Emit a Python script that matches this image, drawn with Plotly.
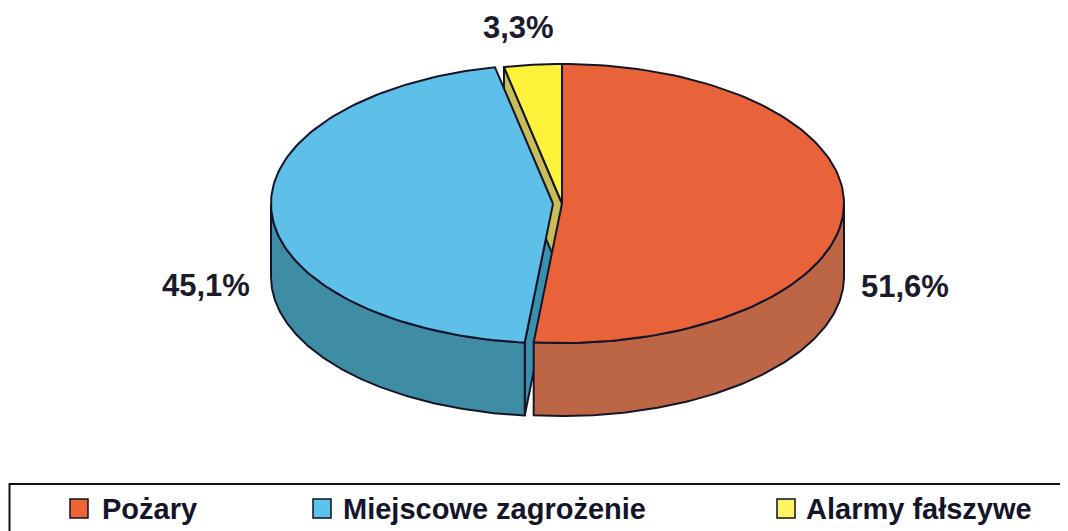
import math
import plotly.graph_objects as go

# ---------------- data ----------------
categories = ["Pożary", "Miejscowe zagrożenie", "Alarmy fałszywe"]
values = [51.6, 45.1, 3.3]
value_labels = ["51,6%", "45,1%", "3,3%"]

# ---------------- style ----------------
top_colors = ["#E8623A", "#5EBFE8", "#FFF23A"]
wall_colors = ["#BC6645", "#3F8DA5", "#C9BC55"]
face_colors = ["#B85E3E", "#3A91AE", "#C8BD57"]
legend_colors = ["#EE6437", "#5CC3EA", "#FFF466"]
explode = [0, 9, 0]
outline = "#15152A"

W, H = 1068, 531
PAD = 8                  # page body margin of the html page
cx, cy = 562, 203.5      # centre of the top face (page pixels)
rx, ry = 282, 139.5      # ellipse radii
depth = 73               # pie thickness
label_pos = [(905, 286), (206, 285), (518, 27)]
legend_marker_x = [70, 313, 777]
legend_text_x = [100, 341, 804]
legend_y = 509

font_family = "Liberation Sans, Arial, sans-serif"

fig = go.Figure()

total = sum(values)
starts, ends = [], []
acc = 0.0
for v in values:
    starts.append(acc / total * 360.0)
    acc += v
    ends.append(acc / total * 360.0)


def pt(theta_deg, r, off, dz=0.0):
    t = math.radians(theta_deg)
    return (cx + off[0] + rx * r * math.sin(t),
            cy + off[1] - ry * r * math.cos(t) + dz)


def arc(a, b, off, dz=0.0, n=120):
    pts = []
    for i in range(n + 1):
        th = a + (b - a) * i / n
        pts.append(pt(th, 1.0, off, dz))
    return pts


def poly(points, fill):
    xs = [p[0] for p in points] + [points[0][0]]
    ys = [p[1] for p in points] + [points[0][1]]
    fig.add_trace(go.Scatter(
        x=xs, y=ys, mode="lines", fill="toself", fillcolor=fill,
        line=dict(color=outline, width=2), hoverinfo="skip",
        showlegend=False))


offsets = []
for i in range(len(values)):
    mid = math.radians((starts[i] + ends[i]) / 2)
    d = explode[i]
    offsets.append((d * math.sin(mid), -d * (ry / rx) * math.cos(mid)))

# radial (cut) faces that face the viewer
for i in range(len(values)):
    s = starts[i]
    if math.sin(math.radians(s)) < -1e-6:
        off = offsets[i]
        c_top = (cx + off[0], cy + off[1])
        e_top = pt(s, 1.0, off)
        poly([c_top, e_top, (e_top[0], e_top[1] + depth),
              (c_top[0], c_top[1] + depth)], face_colors[i])

# outer walls (front half only)
for i in range(len(values)):
    a = max(starts[i], 90.0)
    b = min(ends[i], 270.0)
    if b > a:
        off = offsets[i]
        top = arc(a, b, off)
        bot = arc(a, b, off, depth)[::-1]
        poly(top + bot, wall_colors[i])

# top faces
for i in range(len(values)):
    off = offsets[i]
    c_top = (cx + off[0], cy + off[1])
    poly([c_top] + arc(starts[i], ends[i], off), top_colors[i])

annotations = []
for i, t in enumerate(value_labels):
    annotations.append(dict(
        x=label_pos[i][0], y=label_pos[i][1], text=t, showarrow=False,
        xanchor="center", yanchor="middle",
        font=dict(family=font_family, size=31, color="#1B1B2B",
                  weight="bold")))

shapes = [dict(type="rect", x0=9.5, x1=1080, y0=484, y1=545,
               line=dict(color="#111122", width=2), fillcolor="rgba(0,0,0,0)")]
for i, name in enumerate(categories):
    mx = legend_marker_x[i]
    shapes.append(dict(type="rect", x0=mx, x1=mx + 18, y0=legend_y - 10,
                       y1=legend_y + 9, fillcolor=legend_colors[i],
                       line=dict(color="#111122", width=1.5)))
    annotations.append(dict(
        x=legend_text_x[i], y=legend_y, text=name, showarrow=False,
        xanchor="left", yanchor="middle",
        font=dict(family=font_family, size=29, color="#15152A",
                  weight="bold")))

fig.update_layout(
    width=W - PAD, height=H - PAD,
    margin=dict(l=0, r=0, t=0, b=0),
    paper_bgcolor="white", plot_bgcolor="white",
    xaxis=dict(range=[PAD, W], visible=False, fixedrange=True),
    yaxis=dict(range=[H, PAD], visible=False, fixedrange=True),
    showlegend=False,
    annotations=annotations,
    shapes=shapes,
)

fig.write_html("out.html")
